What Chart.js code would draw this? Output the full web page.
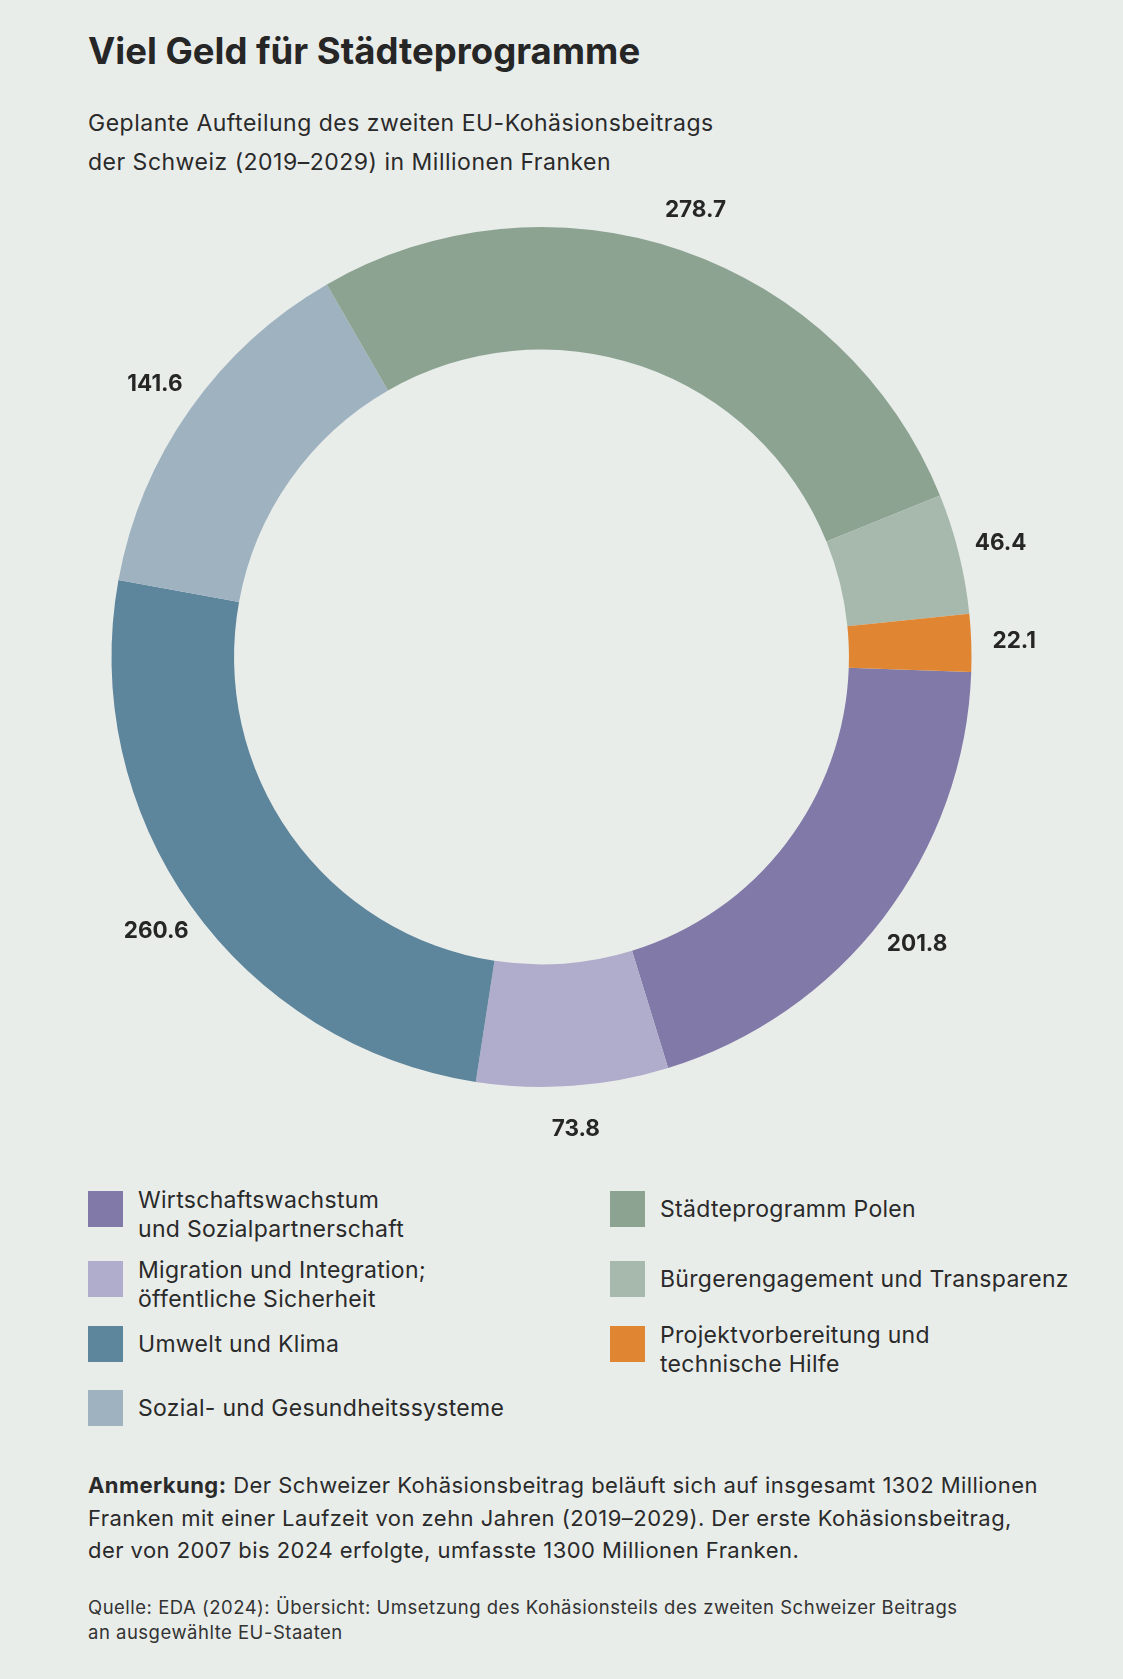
<!DOCTYPE html>
<html lang="de">
<head>
<meta charset="utf-8">
<script src="https://cdn.jsdelivr.net/npm/chart.js@4/dist/chart.umd.min.js"></script>
<style>
  html, body { margin:0; padding:0; }
  body { width:1123px; height:1679px; background:#e9edea; position:relative; overflow:hidden;
         font-family:"Inter", "Noto Sans", sans-serif; color:#222; }
  #title { position:absolute; left:88px; top:29px; font-size:36.5px; font-weight:700; letter-spacing:0px; margin:0; line-height:44px; color:#262626; }
  #subtitle { position:absolute; left:88px; top:104px; font-size:23px; line-height:38.5px; letter-spacing:0.5px; color:#2a2a2a; }
  #chartWrap { position:absolute; left:0; top:177px; width:1123px; height:960px; }
  .lg { position:absolute; display:flex; align-items:flex-start; }
  .sw { width:35px; height:36px; flex:none; }
  .lt { font-size:23px; line-height:29px; letter-spacing:0.3px; margin-left:15px; color:#2a2a2a; }
  #note { position:absolute; left:88px; top:1469px; font-size:22px; line-height:32.5px; letter-spacing:0.45px; color:#2a2a2a; }
  #source { position:absolute; left:88px; top:1595px; font-size:18.5px; line-height:25px; letter-spacing:0.5px; color:#333; }
</style>
</head>
<body>
<h1 id="title">Viel Geld für Städteprogramme</h1>
<div id="subtitle">Geplante Aufteilung des zweiten EU-Kohäsionsbeitrags<br>der Schweiz (2019–2029) in Millionen Franken</div>
<div id="chartWrap"><canvas id="c" width="1123" height="960"></canvas></div>
<div id="legend"></div>
<div id="note"><b>Anmerkung:</b> Der Schweizer Kohäsionsbeitrag beläuft sich auf insgesamt 1302 Millionen<br>Franken mit einer Laufzeit von zehn Jahren (2019–2029). Der erste Kohäsionsbeitrag,<br>der von 2007 bis 2024 erfolgte, umfasste 1300 Millionen Franken.</div>
<div id="source">Quelle: EDA (2024): Übersicht: Umsetzung des Kohäsionsteils des zweiten Schweizer Beitrags<br>an ausgewählte EU-Staaten</div>
<script>
const categories = [
  "Wirtschaftswachstum\nund Sozialpartnerschaft",
  "Migration und Integration;\nöffentliche Sicherheit",
  "Umwelt und Klima",
  "Sozial- und Gesundheitssysteme",
  "Städteprogramm Polen",
  "Bürgerengagement und Transparenz",
  "Projektvorbereitung und\ntechnische Hilfe"
];
const values = [201.8, 73.8, 260.6, 141.6, 278.7, 46.4, 22.1];
const colors = ["#817aa8", "#b0accb", "#5d859c", "#9fb2c0", "#8ca391", "#a7b9ac", "#e08632"];

// legend layout (columns / rows)
const legendCols = [ {sw:88}, {sw:610} ];
const legendRowTops = [1191, 1261, 1326, 1390];
const legendEl = document.getElementById('legend');
categories.forEach((cat, i) => {
  const col = i < 4 ? 0 : 1;
  const row = i < 4 ? i : i - 4;
  const item = document.createElement('div');
  item.className = 'lg';
  item.style.left = legendCols[col].sw + 'px';
  const lines = cat.split('\n');
  item.style.top = legendRowTops[row] + 'px';
  const sw = document.createElement('div');
  sw.className = 'sw';
  sw.style.background = colors[i];
  const t = document.createElement('div');
  t.className = 'lt';
  t.innerHTML = lines.join('<br>');
  t.style.marginTop = lines.length > 1 ? '-5px' : '3.5px';
  item.appendChild(sw); item.appendChild(t);
  legendEl.appendChild(item);
});

const valueLabels = {
  id: 'valueLabels',
  afterDatasetsDraw(chart) {
    const ctx = chart.ctx;
    const meta = chart.getDatasetMeta(0);
    ctx.save();
    ctx.font = '700 22.5px Inter, "Noto Sans", sans-serif';
    ctx.fillStyle = '#262626';
    ctx.textAlign = 'center';
    ctx.textBaseline = 'middle';
    meta.data.forEach((arc, i) => {
      const p = arc.getProps(['x','y','startAngle','endAngle','outerRadius'], true);
      const mid = (p.startAngle + p.endAngle) / 2;
      const r = p.outerRadius + 43;
      ctx.fillText(values[i].toFixed(1), p.x + Math.cos(mid) * r, p.y + Math.sin(mid) * r);
    });
    ctx.restore();
  }
};

new Chart(document.getElementById('c'), {
  type: 'doughnut',
  data: {
    labels: categories.map(c => c.replace('\n', ' ')),
    datasets: [{ data: values, backgroundColor: colors, borderWidth: 0 }]
  },
  options: {
    responsive: false,
    animation: false,
    rotation: 92,
    cutout: '71.5%',
    layout: { padding: { left: 111.5, right: 151.5, top: 50, bottom: 50 } },
    plugins: { legend: { display: false }, tooltip: { enabled: false } }
  },
  plugins: [valueLabels]
});
</script>
</body>
</html>
